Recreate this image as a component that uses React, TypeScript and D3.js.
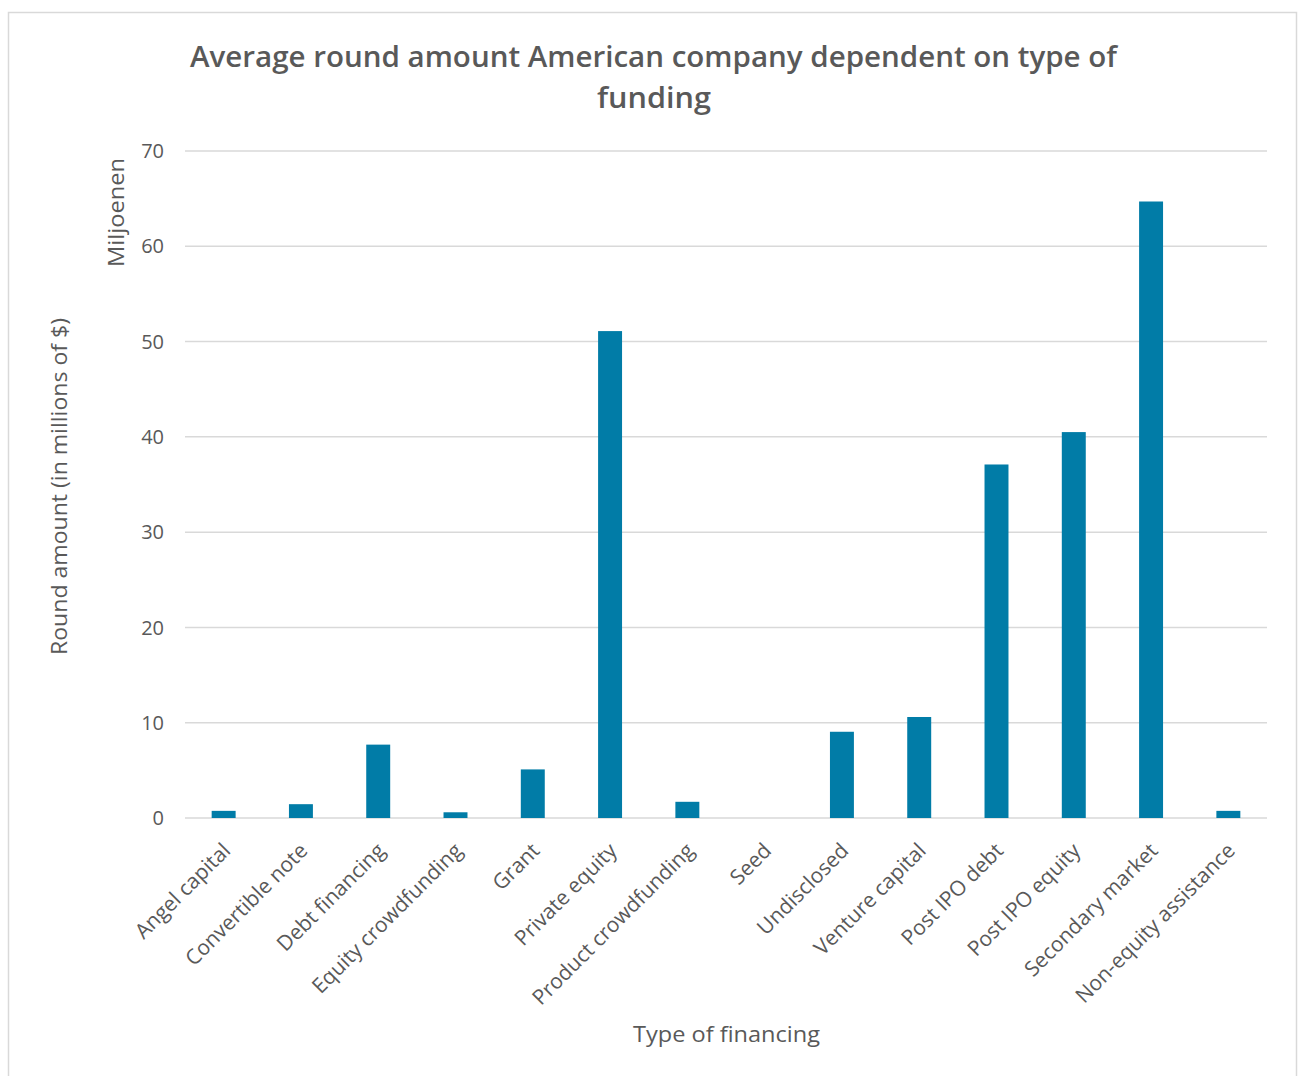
import React from "react";
import * as d3 from "d3";

const categories = [
  "Angel capital",
  "Convertible note",
  "Debt financing",
  "Equity crowdfunding",
  "Grant",
  "Private equity",
  "Product crowdfunding",
  "Seed",
  "Undisclosed",
  "Venture capital",
  "Post IPO debt",
  "Post IPO equity",
  "Secondary market",
  "Non-equity assistance",
];
const values = [0.75, 1.45, 7.7, 0.6, 5.1, 51.1, 1.7, 0, 9.05, 10.6, 37.1, 40.5, 64.7, 0.75];
const yTicks = [0, 10, 20, 30, 40, 50, 60, 70];

const titleLines = ["Average round amount American company dependent on type of", "funding"];
const yTitle = "Round amount (in millions of $)";
const unitLabel = "Miljoenen";
const xTitle = "Type of financing";

const W = 1304;
const H = 1076;
const plot = { left: 185, right: 1267, top: 151, bottom: 818 };
const FONT = "'Open Sans', 'Noto Sans', sans-serif";
const TEXT = "#595959";
const GRID = "#d9d9d9";
const BAR = "#017CA7";

export default function App() {
  const x = d3
    .scaleBand<string>()
    .domain(categories)
    .range([plot.left, plot.right])
    .paddingInner(0.69)
    .paddingOuter(0.345);
  const band = d3.scaleBand<string>().domain(categories).range([plot.left, plot.right]);
  const y = d3.scaleLinear().domain([0, 70]).range([plot.bottom, plot.top]);

  return (
    <svg
      width={W}
      height={H}
      style={{ position: "absolute", left: 0, top: 0, background: "#fff" }}
      fontFamily={FONT}
    >
      <rect x={0} y={0} width={W} height={H} fill="#fff" />
      <rect x={8.5} y={12.5} width={1288} height={1100} fill="none" stroke={GRID} strokeWidth={1.5} />

      <text
        x={190}
        y={67}
        fontSize={28.5}
        fontWeight={600}
        fill={TEXT}
        textLength={927}
        lengthAdjust="spacingAndGlyphs"
      >
        {titleLines[0]}
      </text>
      <text
        x={597}
        y={108}
        fontSize={28.5}
        fontWeight={600}
        fill={TEXT}
        textLength={114}
        lengthAdjust="spacingAndGlyphs"
      >
        {titleLines[1]}
      </text>

      {yTicks.map((t) => (
        <g key={t}>
          <line x1={plot.left} x2={plot.right} y1={y(t)} y2={y(t)} stroke={GRID} strokeWidth={1.5} />
          <text x={164} y={y(t)} dy="0.36em" textAnchor="end" fontSize={20} fill={TEXT}>
            {t}
          </text>
        </g>
      ))}

      {categories.map((c, i) => (
        <rect
          key={c}
          x={x(c)!}
          y={y(values[i])}
          width={x.bandwidth()}
          height={y(0) - y(values[i])}
          fill={BAR}
        />
      ))}

      {categories.map((c) => {
        const cx = band(c)! + band.bandwidth() / 2;
        return (
          <text
            key={c}
            transform={`translate(${cx + 8},${852}) rotate(-45)`}
            textAnchor="end"
            fontSize={21}
            fill={TEXT}
          >
            {c}
          </text>
        );
      })}

      <text
        transform={`translate(67,486.5) rotate(-90)`}
        textAnchor="middle"
        fontSize={21}
        fill={TEXT}
        textLength={337}
        lengthAdjust="spacingAndGlyphs"
      >
        {yTitle}
      </text>
      <text
        transform={`translate(124,212.5) rotate(-90)`}
        textAnchor="middle"
        fontSize={22}
        fill={TEXT}
        textLength={109}
        lengthAdjust="spacingAndGlyphs"
      >
        {unitLabel}
      </text>
      <text
        x={726.5}
        y={1042}
        textAnchor="middle"
        fontSize={21}
        fill={TEXT}
        textLength={187}
        lengthAdjust="spacingAndGlyphs"
      >
        {xTitle}
      </text>
    </svg>
  );
}
